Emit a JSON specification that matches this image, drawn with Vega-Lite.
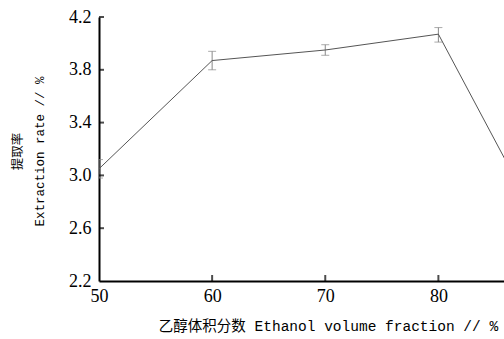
{
  "$schema": "https://vega.github.io/schema/vega-lite/v6.json",
  "width": 405,
  "height": 264,
  "autosize": "none",
  "padding": {"left": 99, "top": 17, "right": 0, "bottom": 58},
  "background": "white",
  "config": {
    "view": {"stroke": null},
    "font": "Liberation Serif",
    "axis": {"labelFont": "Liberation Serif", "titleFont": "Liberation Mono, Noto Sans CJK SC"}
  },
  "datasets": {
    "main": [
      {"ethanol": 50, "rate": 3.05, "lo": 2.98, "hi": 3.12},
      {"ethanol": 60, "rate": 3.87, "lo": 3.8, "hi": 3.94},
      {"ethanol": 70, "rate": 3.95, "lo": 3.91, "hi": 3.99},
      {"ethanol": 80, "rate": 4.07, "lo": 4.01, "hi": 4.12},
      {"ethanol": 90, "rate": 2.46, "lo": 2.41, "hi": 2.51}
    ],
    "xticks": [{"v": 60}, {"v": 70}, {"v": 80}],
    "yticks": [{"v": 2.6}, {"v": 3.0}, {"v": 3.4}, {"v": 3.8}, {"v": 4.2}]
  },
  "data": {"name": "main"},
  "layer": [
    {
      "mark": {"type": "rule", "color": "#888", "strokeWidth": 1, "clip": true},
      "encoding": {
        "x": {
          "field": "ethanol",
          "type": "quantitative",
          "scale": {"domain": [50, 85.8], "nice": false, "zero": false},
          "axis": {
            "values": [50, 60, 70, 80],
            "title": "乙醇体积分数 Ethanol volume fraction // %",
            "grid": false,
            "domainColor": "black",
            "domainWidth": 2,
            "ticks": false,
            "labelFlush": false,
            "labelPadding": 6,
            "labelFontSize": 18,
            "labelColor": "black",
            "titleFontSize": 14.5,
            "titleFontWeight": "normal",
            "titleColor": "black",
            "titleX": 229,
            "titleY": 49,
            "titleAlign": "center",
            "titleBaseline": "alphabetic"
          }
        },
        "y": {
          "field": "lo",
          "type": "quantitative",
          "scale": {"domain": [2.2, 4.2], "nice": false, "zero": false},
          "axis": {
            "values": [2.2, 2.6, 3.0, 3.4, 3.8, 4.2],
            "format": ".1f",
            "title": ["提取率", "Extraction rate // %"],
            "grid": false,
            "domainColor": "black",
            "domainWidth": 2,
            "ticks": false,
            "labelFlush": false,
            "labelPadding": 8,
            "labelFontSize": 18,
            "labelColor": "black",
            "titleFontSize": 12.5,
            "titleFontWeight": "normal",
            "titleColor": "black",
            "titleAngle": -90,
            "titleX": -82,
            "titleY": 134,
            "titleAlign": "center",
            "titleBaseline": "middle",
            "titleLineHeight": 22
          }
        },
        "y2": {"field": "hi"}
      }
    },
    {
      "mark": {"type": "tick", "color": "#888", "size": 8, "thickness": 1, "orient": "horizontal", "clip": true},
      "encoding": {
        "x": {"field": "ethanol", "type": "quantitative"},
        "y": {"field": "lo", "type": "quantitative"}
      }
    },
    {
      "mark": {"type": "tick", "color": "#888", "size": 8, "thickness": 1, "orient": "horizontal", "clip": true},
      "encoding": {
        "x": {"field": "ethanol", "type": "quantitative"},
        "y": {"field": "hi", "type": "quantitative"}
      }
    },
    {
      "mark": {"type": "line", "color": "#555", "strokeWidth": 1, "clip": true},
      "encoding": {
        "x": {"field": "ethanol", "type": "quantitative"},
        "y": {"field": "rate", "type": "quantitative"}
      }
    },
    {
      "data": {"name": "xticks"},
      "mark": {"type": "tick", "color": "black", "orient": "vertical", "size": 6, "thickness": 2, "yOffset": -3},
      "encoding": {
        "x": {"field": "v", "type": "quantitative"},
        "y": {"datum": 2.2, "type": "quantitative"}
      }
    },
    {
      "data": {"name": "yticks"},
      "mark": {"type": "tick", "color": "black", "orient": "horizontal", "size": 5, "thickness": 2, "xOffset": 2.5},
      "encoding": {
        "y": {"field": "v", "type": "quantitative"},
        "x": {"datum": 50, "type": "quantitative"}
      }
    }
  ]
}
